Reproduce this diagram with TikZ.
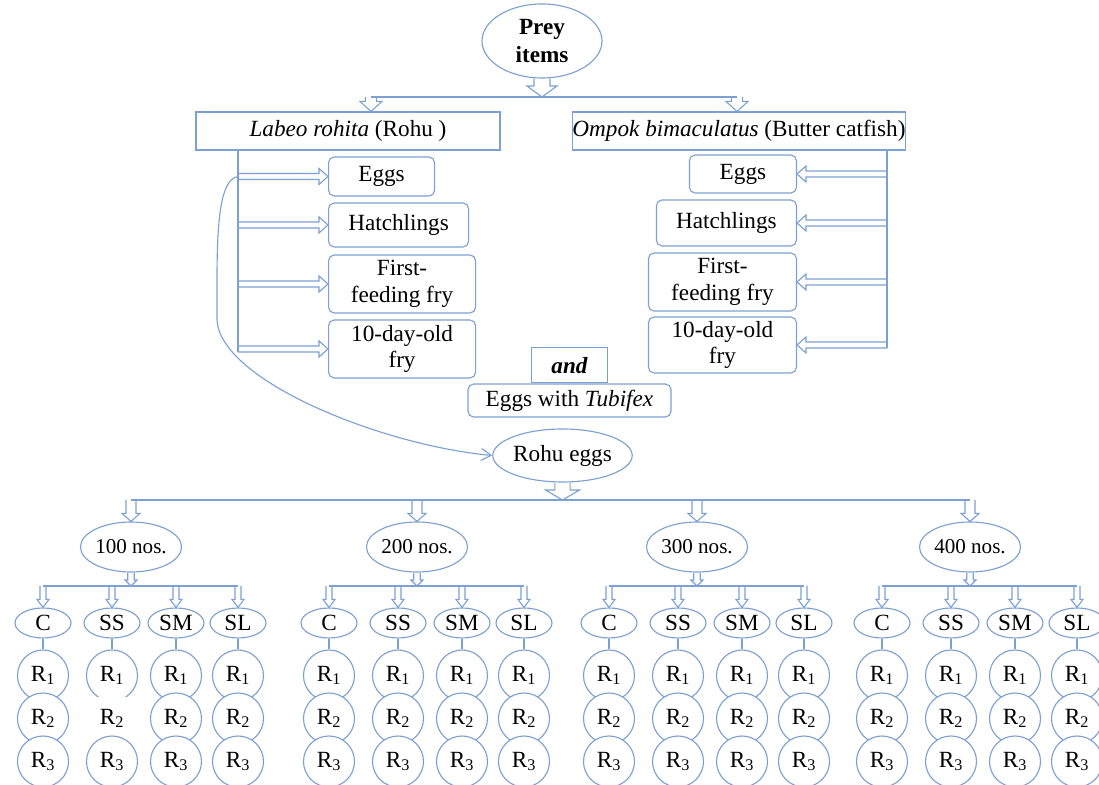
\documentclass[tikz,border=0pt]{standalone}
\usepackage{fontspec}
\setmainfont{Liberation Serif}
\usetikzlibrary{shapes.geometric,calc,positioning,arrows.meta}

\definecolor{flowblue}{RGB}{125,160,210}

\tikzset{
  flowline/.style={draw=flowblue, line width=0.8pt},
  oval/.style={ellipse, flowline, fill=white, inner sep=0pt},
  plainbox/.style={rectangle, flowline, inner sep=0pt, align=center},
  roundbox/.style={rectangle, rounded corners=4pt, flowline, inner sep=0pt, align=center},
  rep/.style={circle, flowline, fill=white, inner sep=0pt, minimum size=1.275cm},
  bigtext/.style={font=\fontsize{16.5}{19}\selectfont},
  smalltext/.style={font=\fontsize{15}{17}\selectfont},
}

% hollow block arrow: from, to, shaft half width, head half width, head length
\newcommand{\openarrow}[5]{%
  \path #1 coordinate (oa-s) #2 coordinate (oa-t);
  \path ($(oa-t)!#5!(oa-s)$) coordinate (oa-h);
  \draw[flowline] ($(oa-s)!#3!90:(oa-t)$) -- ($(oa-h)!#3!90:(oa-t)$)
    -- ($(oa-h)!#4!90:(oa-t)$) -- (oa-t) -- ($(oa-h)!#4!-90:(oa-t)$)
    -- ($(oa-h)!#3!-90:(oa-t)$) -- ($(oa-s)!#3!-90:(oa-t)$);
}

\begin{document}
\begin{tikzpicture}
    \useasboundingbox (0,0) rectangle (27.475,19.625);
\node[oval, font=\bfseries\fontsize{16.5}{19.5}\selectfont, align=center, minimum width=3cm, minimum height=1.85cm] (prey) at (13.55, 18.6) {Prey\\items}; % top
\node[plainbox, bigtext, minimum width=7.6cm, minimum height=0.95cm] (rohita) at (8.7, 16.35) {\textit{Labeo rohita} (Rohu )}; % left species
\node[plainbox, bigtext, minimum width=8.3cm, minimum height=0.95cm] (ompok) at (18.475, 16.35) {\textit{Ompok bimaculatus} (Butter catfish)}; % right species
\coordinate (barL) at (9.275, 17.2); % prey bar
\coordinate (barR) at (18.425, 17.2);
\draw[flowline] (barL) -- (barR);
\openarrow{(prey.south)}{(prey.south |- barL)}{0.2cm}{0.375cm}{0.275cm}
\openarrow{(barL)}{(barL |- rohita.north)}{0.14cm}{0.275cm}{0.25cm}
\openarrow{(barR)}{(barR |- ompok.north)}{0.14cm}{0.275cm}{0.25cm}
% rohu stages
\node[roundbox, bigtext, anchor=west, minimum width=2.65cm, minimum height=0.975cm] (leggs) at (8.2, 15.2125) {Eggs};
\node[roundbox, bigtext, anchor=west, minimum width=3.5cm, minimum height=1.1cm] (lhatch) at (8.2, 14.0) {Hatchlings};
\node[roundbox, bigtext, anchor=west, minimum width=3.675cm, minimum height=1.45cm] (lfirst) at (8.2, 12.525) {First-\\feeding fry};
\node[roundbox, bigtext, anchor=west, minimum width=3.675cm, minimum height=1.45cm] (lten) at (8.2, 10.9) {10-day-old\\fry};
\coordinate (ltop) at (5.95, 15.875);
\draw[flowline] (ltop) -- ($(ltop |- lten.west)+(0,-0.075)$);
\openarrow{(ltop |- leggs.west)}{(leggs.west)}{0.075cm}{0.2cm}{0.225cm}
\openarrow{(ltop |- lhatch.west)}{(lhatch.west)}{0.075cm}{0.2cm}{0.225cm}
\openarrow{(ltop |- lfirst.west)}{(lfirst.west)}{0.075cm}{0.2cm}{0.225cm}
\openarrow{(ltop |- lten.west)}{(lten.west)}{0.075cm}{0.2cm}{0.225cm}
% catfish stages
\node[roundbox, bigtext, anchor=east, minimum width=2.675cm, minimum height=0.95cm] (reggs) at (19.925, 15.275) {Eggs};
\node[roundbox, bigtext, anchor=east, minimum width=3.5cm, minimum height=1.15cm] (rhatch) at (19.925, 14.05) {Hatchlings};
\node[roundbox, bigtext, anchor=east, minimum width=3.7cm, minimum height=1.45cm] (rfirst) at (19.925, 12.575) {First-\\feeding fry};
\node[roundbox, bigtext, anchor=east, minimum width=3.7cm, minimum height=1.4cm] (rten) at (19.925, 11.0) {10-day-old\\fry};
\coordinate (rtop) at (22.175, 15.875);
\draw[flowline] (rtop) -- ($(rtop |- rten.east)+(0,-0.075)$);
\openarrow{(rtop |- reggs.east)}{(reggs.east)}{0.075cm}{0.2cm}{0.225cm}
\openarrow{(rtop |- rhatch.east)}{(rhatch.east)}{0.075cm}{0.2cm}{0.225cm}
\openarrow{(rtop |- rfirst.east)}{(rfirst.east)}{0.075cm}{0.2cm}{0.225cm}
\openarrow{(rtop |- rten.east)}{(rten.east)}{0.075cm}{0.2cm}{0.225cm}
% mixed diet
\node[roundbox, bigtext, minimum width=5.075cm, minimum height=0.825cm] (tubifex) at (14.2375, 9.6125) {Eggs with \textit{Tubifex}};
\node[plainbox, font=\bfseries\itshape\fontsize{16.5}{19}\selectfont, minimum width=1.9cm, minimum height=0.875cm, above=0pt of tubifex] (and) {and};
\node[oval, bigtext, minimum width=3.325cm, minimum height=1.325cm] (rohu) at (14.0625, 8.2375) {Rohu eggs};
\draw[flowline, -{Straight Barb[length=2.5mm, width=3mm]}] (ltop |- leggs.west) .. controls (5.375, 15.125) and (5.425, 13.375) .. (5.425, 11.625) .. controls (5.5, 10.125) and (9.5, 8.5) .. (rohu.west);
% densities
\coordinate (bbarL) at (3.275, 7.125);
\coordinate (bbarR) at (24.25, 7.125);
\draw[flowline] (bbarL) -- (bbarR);
\openarrow{(rohu.south)}{(rohu.south |- bbarL)}{0.19cm}{0.425cm}{0.25cm}
\foreach \gx/\gn [count=\g] in {3.275/100, 10.425/200, 17.425/300, 24.25/400} {
  \node[oval, smalltext, minimum width=2.4cm, minimum height=1.25cm] (n\g) at (\gx, 5.95) {\gn{} nos.};
  \openarrow{(n\g.north |- bbarL)}{(n\g.north)}{0.125cm}{0.225cm}{0.2cm}
  \coordinate (gbar\g) at (\gx, 4.975);
  \openarrow{(n\g.south)}{(gbar\g)}{0.08cm}{0.15cm}{0.15cm}
  \draw[flowline] ($(gbar\g)+(-2.2,0)$) -- ($(gbar\g)+(2.675,0)$);
  \foreach \dx/\tr [count=\t] in {-2.2/C, -0.475/SS, 1.125/SM, 2.675/SL} {
    \node[oval, bigtext, minimum width=1.4cm, minimum height=0.75cm] (t\g\t) at (\gx+\dx, 4.05) {\tr};
    \openarrow{(t\g\t.north |- gbar\g)}{(t\g\t.north)}{0.075cm}{0.15cm}{0.2cm}
    \node[rep, bigtext] (r\g\t1) at (\gx+\dx, 2.7375) {R\textsubscript{1}};
    \ifnum\g\t=12
      \node[rep, bigtext, draw=none] (r\g\t2) at (\gx+\dx, 1.6625) {R\textsubscript{2}};
    \else
      \node[rep, bigtext] (r\g\t2) at (\gx+\dx, 1.6625) {R\textsubscript{2}};
    \fi
    \node[rep, bigtext] (r\g\t3) at (\gx+\dx, 0.5875) {R\textsubscript{3}};
    \draw[flowline] (t\g\t.south) -- (r\g\t1.north);
  }
}
    \end{tikzpicture}
\end{document}
